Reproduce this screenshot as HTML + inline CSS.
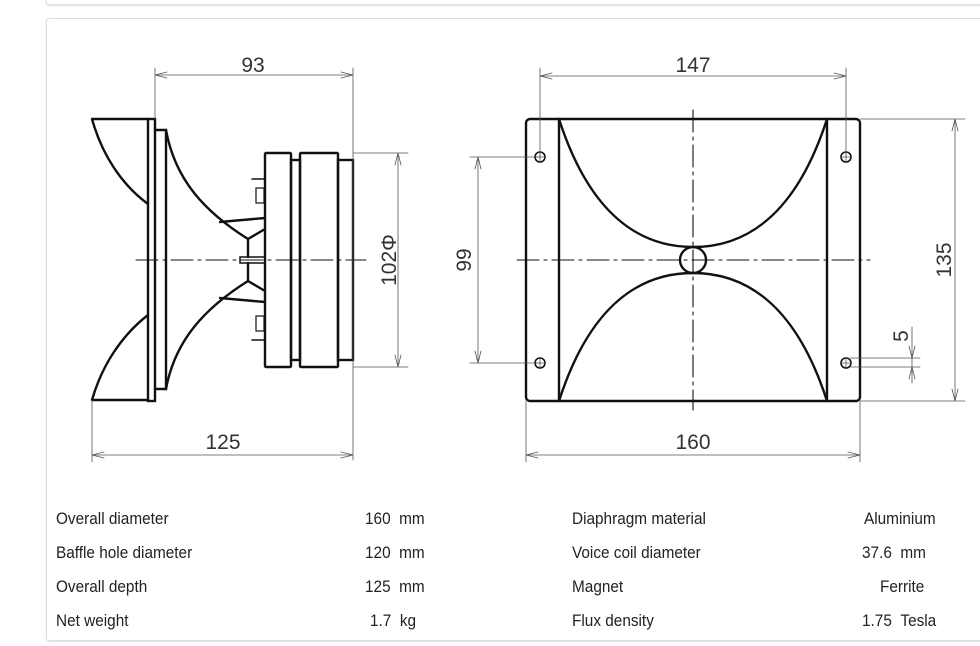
<!DOCTYPE html>
<html><head><meta charset="utf-8"><style>
body{margin:0;background:#fff;width:980px;height:646px;overflow:hidden;position:relative;font-family:"Liberation Sans",sans-serif}
.c1{position:absolute;left:46px;top:-20px;width:960px;height:23px;border:1px solid #ddd;border-radius:3px;box-shadow:0 1px 2px rgba(0,0,0,.12)}
.c2{position:absolute;left:46px;top:18px;width:960px;height:621px;border:1px solid #ddd;border-radius:3px;box-shadow:0 1px 2px rgba(0,0,0,.12)}
.t{position:absolute;font-size:16.5px;color:#222;transform:scaleX(.93);transform-origin:left}
svg{position:absolute;left:0;top:0}
</style></head><body>
<div class="c1"></div><div class="c2"></div>
<svg width="980" height="646" viewBox="0 0 980 646" fill="none" stroke-linecap="round">
<g stroke="#111" stroke-width="2.4">
<path d="M92 119H148M92 119C102 155 122 185 148 204M92 400H148M92 400C102 365 122 335 148 315"/>
<rect x="148" y="119" width="7" height="282"/>
<path d="M155 130H166V389H155"/>
<path d="M166 130C175 180 205 212 248 239M166 389C175 340 205 308 248 281"/>
<path d="M220 222L265 218M248 239L265 229M248 239V257M220 298L265 302M248 281L265 291M248 281V263"/>
<rect x="240" y="257" width="25" height="6" stroke-width="1.5"/>
<rect x="265" y="153" width="26" height="214" rx="1"/>
<rect x="291" y="160" width="9" height="200"/>
<rect x="300" y="153" width="38" height="214" rx="1"/>
<rect x="338" y="160" width="15" height="200"/>
<path d="M252 179H264M252 340H264" stroke-width="1.5"/>
<rect x="256" y="188" width="8" height="15" stroke-width="1.2"/>
<rect x="256" y="316" width="8" height="15" stroke-width="1.2"/>
<rect x="526" y="119" width="334" height="282" rx="4"/>
<path d="M559 119V401M827 119V401"/>
<path d="M559 119C590 215 640 247 693 247C746 247 796 215 827 119"/>
<path d="M559 401C590 305 640 273 693 273C746 273 796 305 827 401"/>
<circle cx="693" cy="260" r="13"/>
<g stroke-width="1.6"><circle cx="540" cy="157" r="5"/><circle cx="846" cy="157" r="5"/><circle cx="540" cy="363" r="5"/><circle cx="846" cy="363" r="5"/></g>
</g>
<g stroke="#111" stroke-width="1.1" stroke-dasharray="22 5 3 5">
<path d="M136 260H366"/><path d="M517 260H870"/><path d="M693 110V410"/>
</g>
<g stroke="#555" stroke-width="0.8">
<path d="M155 68V119M353 68V460M92 400V462M155 75H353M92 455H353"/>
<path d="M353 153H408M353 367H408M398 153V367"/>
<path d="M540 68V157M846 68V157M540 76H846M526 401V462M860 401V462M526 455H860"/>
<path d="M470 157H540M470 363H540M478 157V363"/>
<path d="M860 119H965M860 401H965M955 119V401"/>
<path d="M850 358H920M850 367H920M912 327V383"/>
<path d="M535 157H545M540 152V162M841 157H851M846 152V162M535 363H545M540 358V368M841 363H851M846 358V368"/>
<path d="M167 72L155 75L167 78M341 72L353 75L341 78M104 452L92 455L104 458M341 452L353 455L341 458"/>
<path d="M552 73L540 76L552 79M834 73L846 76L834 79M538 452L526 455L538 458M848 452L860 455L848 458"/>
<path d="M395 165L398 153L401 165M395 355L398 367L401 355M475 169L478 157L481 169M475 351L478 363L481 351"/>
<path d="M952 131L955 119L958 131M952 389L955 401L958 389M909 346L912 358L915 346M909 379L912 367L915 379"/>
</g>
<g fill="#333" font-family="Liberation Sans, sans-serif" font-size="21" text-anchor="middle">
<text x="253" y="72">93</text>
<text x="693" y="72">147</text>
<text x="223" y="449">125</text>
<text x="693" y="449">160</text>
<text transform="translate(396,260) rotate(-90)">102Φ</text>
<text transform="translate(471,260) rotate(-90)">99</text>
<text transform="translate(951,260) rotate(-90)">135</text>
<text transform="translate(908,336) rotate(-90)">5</text>
</g>
</svg>
<div class="t" style="left:56px;top:510px">Overall diameter</div>
<div class="t" style="left:56px;top:544px">Baffle hole diameter</div>
<div class="t" style="left:56px;top:578px">Overall depth</div>
<div class="t" style="left:56px;top:612px">Net weight</div>
<div class="t" style="left:365px;top:510px">160 &nbsp;mm</div>
<div class="t" style="left:365px;top:544px">120 &nbsp;mm</div>
<div class="t" style="left:365px;top:578px">125 &nbsp;mm</div>
<div class="t" style="left:370px;top:612px">1.7 &nbsp;kg</div>
<div class="t" style="left:572px;top:510px">Diaphragm material</div>
<div class="t" style="left:572px;top:544px">Voice coil diameter</div>
<div class="t" style="left:572px;top:578px">Magnet</div>
<div class="t" style="left:572px;top:612px">Flux density</div>
<div class="t" style="left:864px;top:510px">Aluminium</div>
<div class="t" style="left:862px;top:544px">37.6 &nbsp;mm</div>
<div class="t" style="left:880px;top:578px">Ferrite</div>
<div class="t" style="left:862px;top:612px">1.75 &nbsp;Tesla</div>
</body></html>
